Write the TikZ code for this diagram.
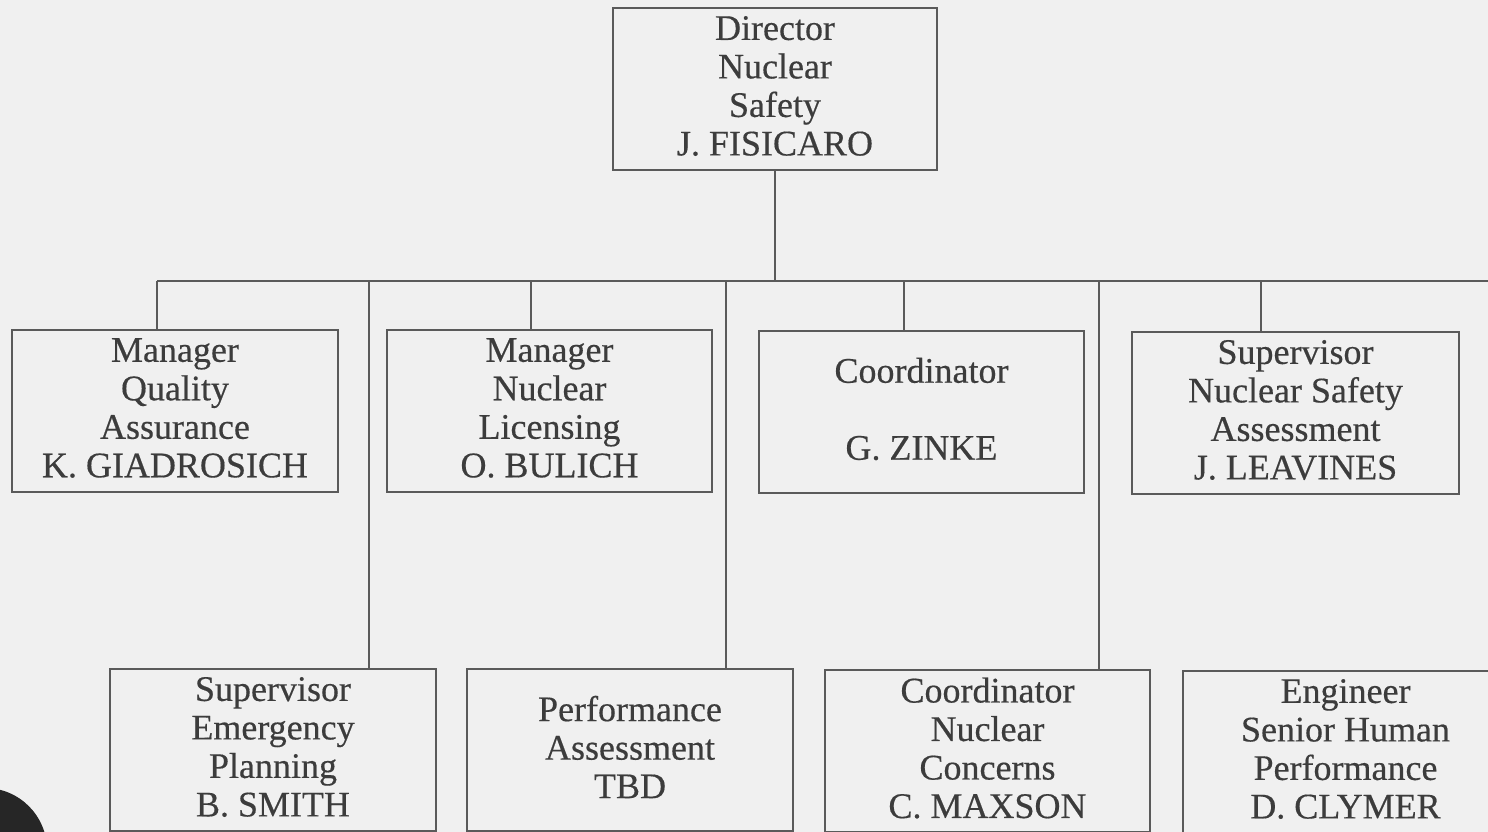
\documentclass[tikz,border=0pt]{standalone}
\usepackage{fontspec}
\setmainfont{Liberation Serif}[FakeBold=0.4]
\definecolor{ink}{HTML}{3C3C3C}
\definecolor{rule}{HTML}{5A5A5A}
\definecolor{paper}{HTML}{F0F0F0}
\begin{document}
\begin{tikzpicture}[x=1pt,y=-1pt,
  post/.style={draw=rule, line width=1.6pt, fill=paper, rectangle, inner sep=0pt,
    minimum width=325pt, minimum height=162pt},
  words/.style={inner sep=0pt, align=center, text=ink,
    font=\fontsize{36}{38.5}\selectfont},
  wire/.style={draw=rule, line width=1.6pt}]
% page
\fill[paper] (0,0) rectangle (1488,832);
\useasboundingbox (0,0) rectangle (1488,832);

% director
\node[post, minimum width=324pt] (dir) at (775,89) {};

% first row
\node[post, minimum width=326pt] (qa) at (175,411) {};
\node[post] (lic) at (549.5,411) {};
\node[post] (coord) at (921.5,412) {};
\node[post, minimum width=327pt] (nsa) at (1295.5,413) {};

% second row
\node[post, minimum width=326pt] (ep) at (273,750) {};
\node[post, minimum width=326pt] (pa) at (630,750) {};
\node[post] (cnc) at (987.5,751) {};
\node[post] (eng) at (1345.5,752) {};

% box titles
\node[words] (dir-t)   at ([yshift=3pt]dir.center)   {Director\\Nuclear\\Safety\\J. FISICARO};
\node[words] (qa-t)    at ([yshift=3pt]qa.center)    {Manager\\Quality\\Assurance\\K. GIADROSICH};
\node[words] (lic-t)   at ([yshift=3pt]lic.center)   {Manager\\Nuclear\\Licensing\\O. BULICH};
\node[words] (coord-t) at ([yshift=3pt]coord.center) {Coordinator\\[38.5pt]G. ZINKE};
\node[words] (nsa-t)   at ([yshift=3pt]nsa.center)   {Supervisor\\Nuclear Safety\\Assessment\\J. LEAVINES};
\node[words] (ep-t)    at ([yshift=3pt]ep.center)    {Supervisor\\Emergency\\Planning\\B. SMITH};
\node[words] (pa-t)    at ([yshift=3pt]pa.center)    {Performance\\Assessment\\TBD};
\node[words] (cnc-t)   at ([yshift=3pt]cnc.center)   {Coordinator\\Nuclear\\Concerns\\C. MAXSON};
\node[words] (eng-t)   at ([yshift=3pt]eng.center)   {Engineer\\Senior Human\\Performance\\D. CLYMER};

% bus and drop points
\coordinate (busL) at (157,281);
\coordinate (busR) at (1488,281);
\coordinate (t1) at (157,281);
\coordinate (t2) at (369,281);
\coordinate (t3) at (531,281);
\coordinate (t4) at (726,281);
\coordinate (t5) at (904,281);
\coordinate (t6) at (1099,281);
\coordinate (t7) at (1261,281);

\draw[wire] (dir.south) -- (dir.south |- busL);
\draw[wire] (busL) -- (busR);
\draw[wire] (t1) -- (t1 |- qa.north);
\draw[wire] (t2) -- (t2 |- ep.north);
\draw[wire] (t3) -- (t3 |- lic.north);
\draw[wire] (t4) -- (t4 |- pa.north);
\draw[wire] (t5) -- (t5 |- coord.north);
\draw[wire] (t6) -- (t6 |- cnc.north);
\draw[wire] (t7) -- (t7 |- nsa.north);

% dark punch mark in the lower left corner
\begin{scope}
  \clip (0,0) rectangle (1488,832);
  \fill[black!85] (-15,850) circle[radius=62];
\end{scope}
\end{tikzpicture}
\end{document}
